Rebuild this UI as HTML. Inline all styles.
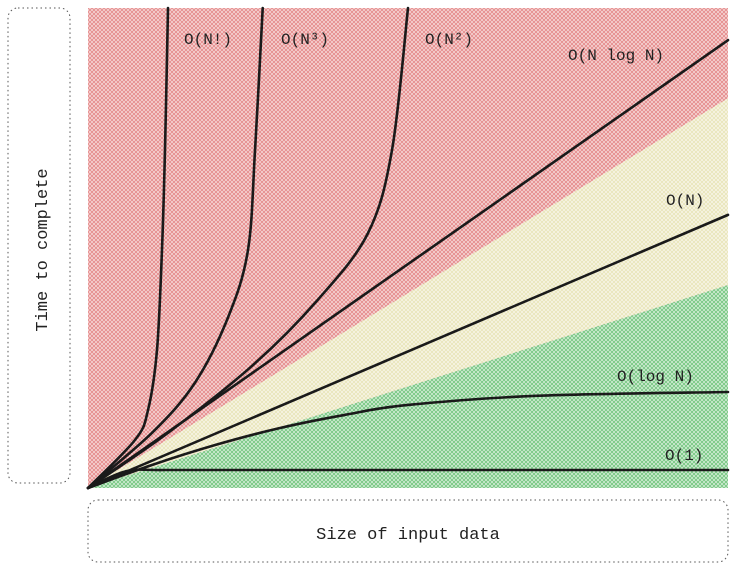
<!DOCTYPE html>
<html><head><meta charset="utf-8"><style>
body{margin:0;background:#fff;width:736px;height:575px;overflow:hidden}
svg{display:block}
text{font-family:"Liberation Mono","DejaVu Sans Mono",monospace;fill:#222}
</style></head><body>
<svg width="736" height="575" viewBox="0 0 736 575">
<defs>
<pattern id="hr" width="4" height="4" patternUnits="userSpaceOnUse"><rect width="4" height="4" fill="#f6d6d6"/><path d="M0,0L4,4M4,0L0,4" stroke="#e48888" stroke-width="0.8"/></pattern>
<pattern id="hy" width="4" height="4" patternUnits="userSpaceOnUse"><rect width="4" height="4" fill="#f8f6e6"/><path d="M0,0L4,4M4,0L0,4" stroke="#e8e4b8" stroke-width="0.8"/></pattern>
<pattern id="hg" width="4" height="4" patternUnits="userSpaceOnUse"><rect width="4" height="4" fill="#d3eed6"/><path d="M0,0L4,4M4,0L0,4" stroke="#72c47e" stroke-width="0.8"/></pattern>
</defs>
<rect x="8" y="8" width="62" height="475" rx="10" fill="none" stroke="#555" stroke-width="1" stroke-dasharray="1.5,3"/>
<text x="47" y="250" font-size="17" text-anchor="middle" transform="rotate(-90 47 250)">Time to complete</text>
<rect x="88" y="500" width="640" height="62" rx="10" fill="none" stroke="#555" stroke-width="1" stroke-dasharray="1.5,3"/>
<text x="408" y="539" font-size="17" text-anchor="middle">Size of input data</text>
<g id="plot"></g>
</svg>
<script>
const seriesNames=["O(1)","O(log N)","O(N)","O(N log N)","O(N²)","O(N³)","O(N!)"];
const xs1=[0,6,12,40,100], ys1=[0,3.5,3.75,3.75,3.75];
const xsLog=[0,10,20,30,40,50,70,100], ysLog=[0,4.8,9,12.5,15.2,17.3,19.2,20];
const xsN=[0,100], ysN=[0,56.9];
const xsNlogN=[0,100], ysNlogN=[0,93.3];
const xsN2=[0,12.5,25.6,35.9,43.75,47.5,50], ysN2=[0,11.5,25.4,39.2,53.1,70.4,100];
const xsN3=[0,10,16.7,21.9,25,26.1,27.3], ysN3=[0,11.5,21.9,35.6,49.6,70.4,100];
const xsNF=[0,7.34,9.38,10.78,11.56,12.03,12.5], ysNF=[0,10,16.25,28.75,49.6,70.4,100];
const yellowTop=81.2, greenTop=42.3;
const labels=[["O(N!)",184,44],["O(N³)",281,44],["O(N²)",425,44],["O(N log N)",568,60],["O(N)",666,205],["O(log N)",617,381],["O(1)",665,460]];
const X0=88,X1=728,Y0=488,Y1=8;
const sx=v=>X0+v/100*(X1-X0), sy=v=>Y0-v/100*(Y0-Y1);
const NS="http://www.w3.org/2000/svg";
const g=document.getElementById('plot');
function mk(t,a){const e=document.createElementNS(NS,t);for(const k in a)e.setAttribute(k,a[k]);g.appendChild(e);return e;}
let r=mk('rect',{x:X0,y:Y1,width:X1-X0,height:Y0-Y1,fill:'url(#hr)'});


let p=mk('path',{d:`M${sx(0)},${sy(0)}L${sx(100)},${sy(yellowTop)}L${sx(100)},${sy(greenTop)}Z`,fill:'url(#hy)'});


p=mk('path',{d:`M${sx(0)},${sy(0)}L${sx(100)},${sy(greenTop)}L${sx(100)},${sy(0)}Z`,fill:'url(#hg)'});


function curve(xs,ys){const P=xs.map((x,i)=>[sx(x),sy(ys[i])]);let d=`M${P[0][0]},${P[0][1]}`;
for(let i=0;i<P.length-1;i++){const a=P[Math.max(i-1,0)],b=P[i],c=P[i+1],e=P[Math.min(i+2,P.length-1)];
d+=`C${b[0]+(c[0]-a[0])/6},${b[1]+(c[1]-a[1])/6} ${c[0]-(e[0]-b[0])/6},${c[1]-(e[1]-b[1])/6} ${c[0]},${c[1]}`;}return d;}
const series=[[xs1,ys1],[xsLog,ysLog],[xsN,ysN],[xsNlogN,ysNlogN],[xsN2,ysN2],[xsN3,ysN3],[xsNF,ysNF]];
series.forEach((s,i)=>{const l=mk('path',{d:curve(s[0],s[1]),fill:'none',stroke:'#1a1a1a','stroke-width':2.6,'stroke-linecap':'round'});

});
labels.forEach(L=>{const t=mk('text',{x:L[1],y:L[2],'font-size':16});t.textContent=L[0];

});
</script>
</body></html>
